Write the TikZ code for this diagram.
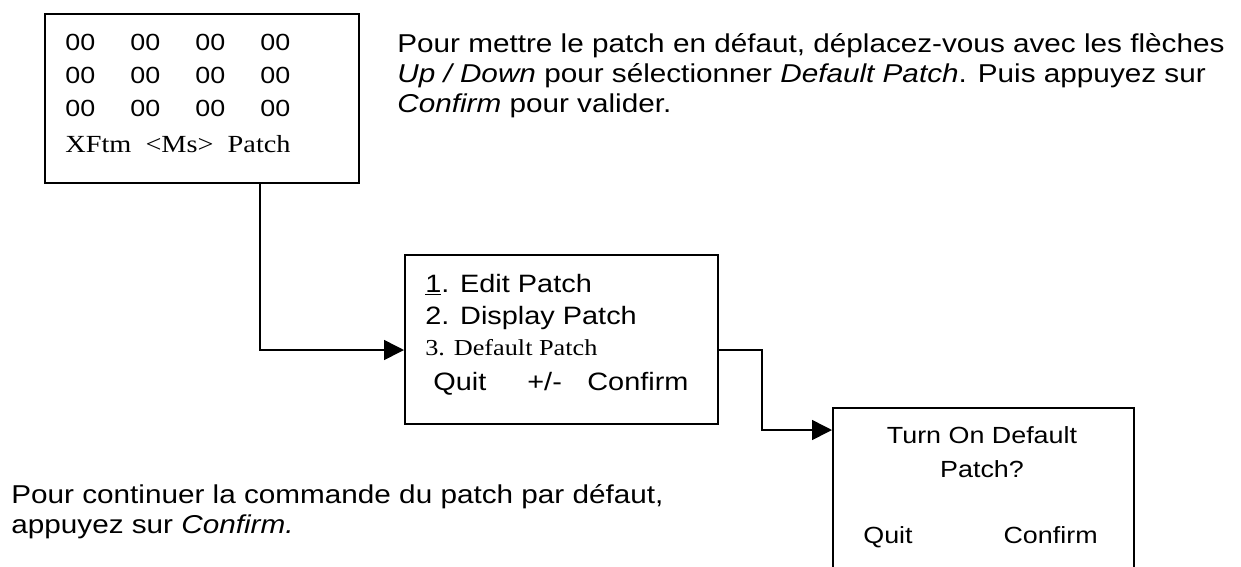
\documentclass[tikz,border=0pt]{standalone}
\usepackage{fontspec}
\setmainfont{Liberation Sans}[FakeStretch=1.15]
\newfontfamily\lcdserif{Liberation Serif}[FakeStretch=1.15]
\usetikzlibrary{arrows.meta,positioning,calc}

\tikzset{
  screen/.style={draw, line width=1pt, anchor=north west, inner sep=0pt},
  hint/.style={anchor=base west, inner sep=0pt, font=\fontsize{14.7}{17}\selectfont},
  lcd/.style={anchor=base west, inner sep=0pt, font=\fontsize{13.3}{16}\selectfont},
  link/.style={line width=0.9pt, -{Triangle[length=0.4cm,width=0.4cm]}}
}

\begin{document}
\begin{tikzpicture}[x=0.02cm, y=-0.02cm]
  \useasboundingbox (0,0) rectangle (1241,566);
  \clip (0,0) rectangle (1241,566);

  % the three screens
  \node[screen, minimum width=6.28cm, minimum height=3.38cm] (patchgrid) at (44,13) {};
  \node[screen, minimum width=6.26cm, minimum height=3.38cm] (patchmenu) at (404,254) {};
  \node[screen, minimum width=6.02cm, minimum height=3.38cm] (defaultask) at (832,407) {};

  % patch table
  \foreach \r in {1,2,3}
    \foreach \c in {1,...,4}
      \node[lcd] (cell\r\c) at (65*\c, 17+33*\r) {00};
  \node[lcd, font=\lcdserif\fontsize{14}{16}\selectfont] (gridfoot) at (65,152) {XFtm~~<Ms>~~Patch};

  % menu
  \node[lcd, font=\fontsize{14.3}{17}\selectfont] (item1) at (425,292) {\underline{1}. Edit Patch};
  \node[lcd, font=\fontsize{14.3}{17}\selectfont] (item2) at (425,324) {2. Display Patch};
  \node[lcd, font=\lcdserif\fontsize{13}{16}\selectfont] (item3) at (425,355) {3. Default Patch};
  \node[lcd, font=\fontsize{14.3}{17}\selectfont] (mquit) at (433,390) {Quit};
  \node[lcd, font=\fontsize{14.3}{17}\selectfont] (mstep) at (527,390) {+/-};
  \node[lcd, font=\fontsize{14.3}{17}\selectfont] (mconfirm) at (587,390) {Confirm};

  % confirmation screen
  \node[lcd, anchor=base] (ask1) at (982,443) {Turn On Default};
  \node[lcd, anchor=base] (ask2) at (982,477) {Patch?};
  \node[lcd] (aquit) at (863,543) {Quit};
  \node[lcd, anchor=base east] (aconfirm) at (1098,543) {Confirm};

  % connectors
  \coordinate (turn1) at (260,350);
  \coordinate (turn2) at (762,350);
  \coordinate (turn3) at (762,430);
  \draw[link] (patchgrid.south -| turn1) |- (patchmenu.west |- turn1);
  \draw[link] (patchmenu.east |- turn2) -- (turn2) |- (defaultask.west |- turn3);

  % instructions
  \node[hint] (top1) at (397,52) {Pour mettre le patch en défaut, déplacez-vous avec les flèches};
  \node[hint] (top2) at (397,82) {\textit{Up / Down} pour sélectionner \textit{Default Patch}. Puis appuyez sur};
  \node[hint] (top3) at (397,112) {\textit{Confirm} pour valider.};
  \node[hint] (low1) at (11,503) {Pour continuer la commande du patch par défaut,};
  \node[hint] (low2) at (11,533) {appuyez sur \textit{Confirm.}};
\end{tikzpicture}
\end{document}
